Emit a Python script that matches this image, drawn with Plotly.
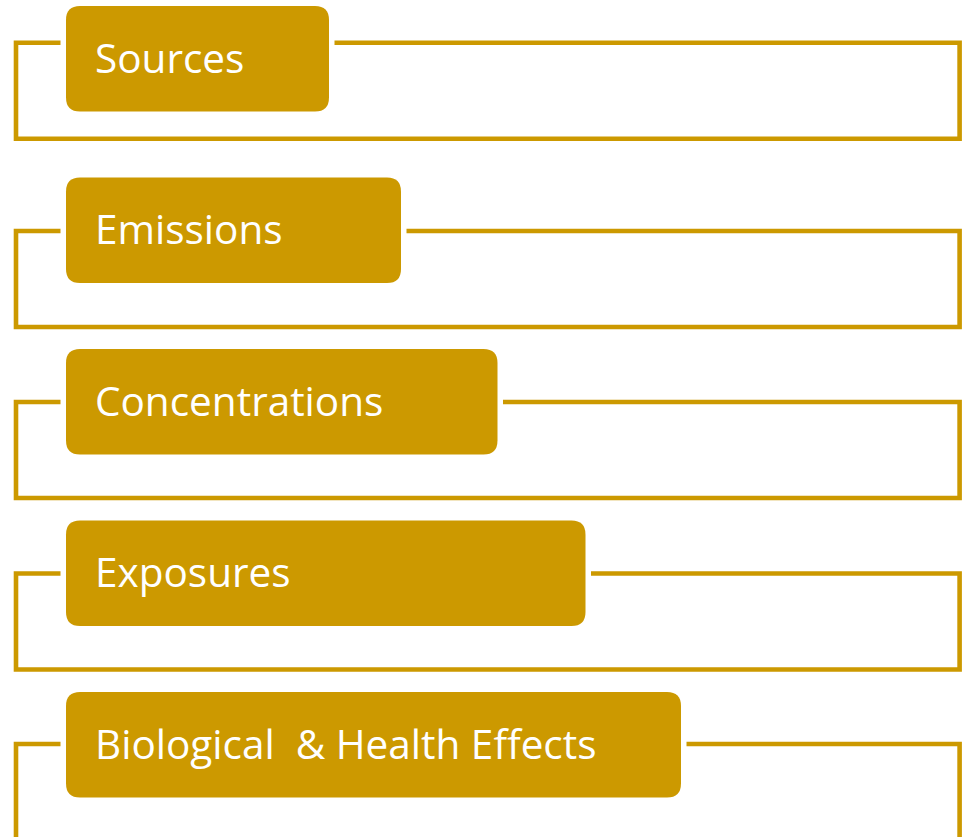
import plotly.graph_objects as go

# Data: the stage labels of the diagram, top to bottom
stages = ["Sources", "Emissions", "Concentrations", "Exposures", "Biological\u00a0 & Health Effects"]

# Layout constants (pixel geometry of the page)
W, H = 965, 837
COLOR = "#CC9900"
row_step = 171.5
box_top0 = 6
box_h = 105.5
box_left = 66
box_rights = [329, 401, 497.5, 585.5, 681]
outline_tops = [42.7, 231, 402, 573.5, 744]
outline_h = 96
outline_left = 16
outline_right = 959.6
gap = 5.5
line_w = 4.6
radius = 14


def rounded_rect(x0, y0, x1, y1, r):
    return (f"M {x0+r},{y0} L {x1-r},{y0} Q {x1},{y0} {x1},{y0+r} "
            f"L {x1},{y1-r} Q {x1},{y1} {x1-r},{y1} L {x0+r},{y1} "
            f"Q {x0},{y1} {x0},{y1-r} L {x0},{y0+r} Q {x0},{y0} {x0+r},{y0} Z")


shapes = []
annotations = []
for i, label in enumerate(stages):
    bt = box_top0 + i * row_step
    bb = bt + box_h
    br = box_rights[i]
    ot = outline_tops[i]
    ob = ot + outline_h
    path = (f"M {box_left-gap},{ot} L {outline_left},{ot} L {outline_left},{ob} "
            f"L {outline_right},{ob} L {outline_right},{ot} L {br+gap},{ot}")
    shapes.append(dict(type="path", path=path, xref="x", yref="y",
                       line=dict(color=COLOR, width=line_w), layer="below"))
    shapes.append(dict(type="path", path=rounded_rect(box_left, bt, br, bb, radius),
                       xref="x", yref="y", fillcolor=COLOR,
                       line=dict(color=COLOR, width=0), layer="above"))
    annotations.append(dict(x=93, y=(bt + bb) / 2 - 1.5, xref="x", yref="y",
                            text=label, showarrow=False, xanchor="left", yanchor="middle",
                            font=dict(family="Open Sans", size=40.5, color="white")))

fig = go.Figure()
fig.update_layout(
    width=W, height=H,
    margin=dict(l=0, r=0, t=0, b=0, pad=0),
    paper_bgcolor="white", plot_bgcolor="white",
    xaxis=dict(range=[0, W], visible=False, fixedrange=True),
    yaxis=dict(range=[H, 0], visible=False, fixedrange=True),
    shapes=shapes, annotations=annotations,
    showlegend=False,
)
fig.write_html(
    "out.html",
    config={"displayModeBar": False, "staticPlot": True},
    post_script="document.body.style.margin='0';document.body.style.overflow='hidden';",
)
